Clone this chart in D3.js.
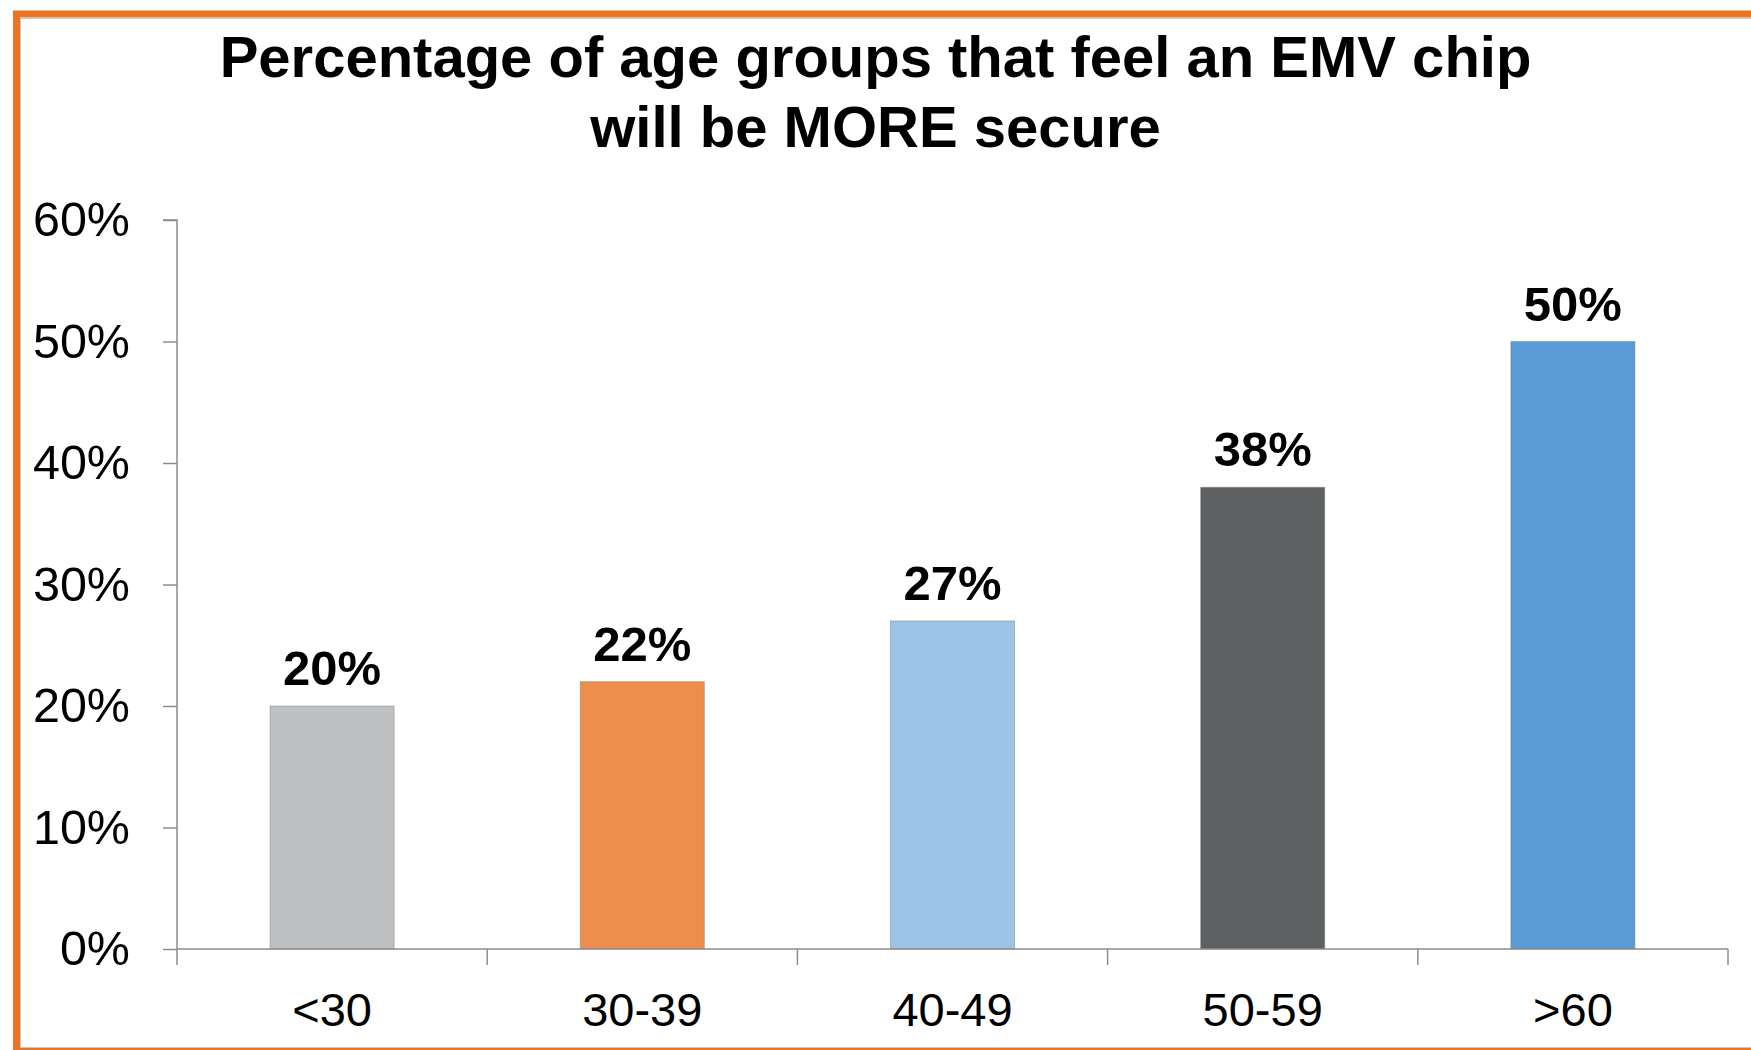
<!DOCTYPE html>
<html>
<head>
<meta charset="utf-8">
<script src="https://cdn.jsdelivr.net/npm/d3@7"></script>
<style>
  html, body { margin: 0; padding: 0; background: #fff; }
  svg { display: block; }
</style>
</head>
<body>
<script>
const categories = ["<30", "30-39", "40-49", "50-59", ">60"];
const values = [20, 22, 27, 38, 50];
const barColors = ["#BFC0C2", "#EE8E4D", "#9DC3E6", "#5F6062", "#5B9BD5"];
const yTicks = [0, 10, 20, 30, 40, 50, 60];
const titleLines = ["Percentage of age groups that feel an EMV chip", "will be MORE secure"];

const W = 1751, H = 1050;
const svg = d3.select("body").append("svg").attr("width", W).attr("height", H);
const font = "'Liberation Sans', Arial, Helvetica, sans-serif";

// frame
svg.append("rect").attr("x", 16.5).attr("y", 14).attr("width", 1800).attr("height", 1037.5)
  .attr("fill", "none").attr("stroke", "#E87424").attr("stroke-width", 7);
svg.append("rect").attr("x", 20.5).attr("y", 18.5).attr("width", 1800).attr("height", 1029)
  .attr("fill", "none").attr("stroke", "#c8c8c8").attr("stroke-width", 1);

const x0 = 177, x1 = 1728, yTop = 220, yBot = 949;
const x = d3.scaleBand().domain(categories).range([x0, x1]).padding(0);
const y = d3.scaleLinear().domain([0, 60]).range([yBot, yTop]);

// title
svg.append("g").selectAll("text").data(titleLines).join("text")
  .attr("x", W / 2).attr("y", (d, i) => 77 + i * 70)
  .attr("text-anchor", "middle").attr("font-family", font).attr("font-weight", "bold")
  .attr("font-size", 58).attr("fill", "#000").text(d => d);

// bars
const bw = x.bandwidth();
svg.append("g").selectAll("rect").data(values).join("rect")
  .attr("x", (d, i) => x(categories[i]) + bw * 0.3)
  .attr("width", bw * 0.4)
  .attr("y", d => y(d))
  .attr("height", d => yBot - y(d))
  .attr("fill", (d, i) => barColors[i])
  .attr("stroke", "rgba(120,120,120,0.45)").attr("stroke-width", 1);

// value labels
svg.append("g").selectAll("text").data(values).join("text")
  .attr("x", (d, i) => x(categories[i]) + bw / 2)
  .attr("y", d => y(d) - 21)
  .attr("text-anchor", "middle").attr("font-family", font).attr("font-weight", "bold")
  .attr("font-size", 49).attr("fill", "#000").text(d => d + "%");

// y axis
const yAxis = d3.axisLeft(y).tickValues(yTicks).tickFormat(d => d + "%").tickSize(14).tickPadding(33);
const gy = svg.append("g").attr("transform", `translate(${x0},0)`).call(yAxis);
gy.select(".domain").attr("stroke", "#8c8c8c").attr("stroke-width", 1.5).attr("d", `M-14,${yTop}H0V${yBot}`);
gy.selectAll(".tick line").attr("stroke", "#8c8c8c").attr("stroke-width", 1.5);
gy.selectAll(".tick text").attr("font-family", font).attr("font-size", 48.5).attr("fill", "#000");

// x axis
const xAxis = d3.axisBottom(x).tickSize(0).tickPadding(0).tickFormat(d => d);
const gx = svg.append("g").attr("transform", `translate(0,${yBot})`).call(xAxis);
gx.select(".domain").attr("stroke", "#8c8c8c").attr("stroke-width", 1.5).attr("d", `M${x0},0H${x1}`);
gx.selectAll(".tick text").attr("font-family", font).attr("font-size", 47).attr("fill", "#000")
  .attr("dy", null).attr("y", 77);
// category boundary ticks
const bounds = categories.map(c => x(c)).concat([x1]);
gx.append("g").selectAll("line").data(bounds).join("line")
  .attr("x1", d => d).attr("x2", d => d).attr("y1", 0).attr("y2", 16)
  .attr("stroke", "#8c8c8c").attr("stroke-width", 1.5);
</script>
</body>
</html>
